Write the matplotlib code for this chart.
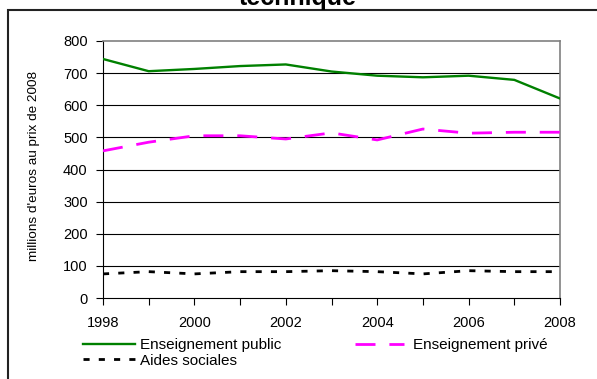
import numpy as np
import matplotlib
matplotlib.use('Agg')
import matplotlib.pyplot as plt
from matplotlib.patches import Rectangle

plt.rcParams['font.family'] = 'Liberation Sans'

years = np.arange(1998, 2009)
public = [744, 706, 713, 722, 727, 705, 692, 687, 692, 679, 621]
prive = [458, 485, 505, 505, 495, 514, 492, 526, 513, 516, 516]
aides = [75, 82, 75, 82, 82, 85, 82, 75, 85, 82, 82]

W, H = 597, 379
fig = plt.figure(figsize=(W / 100, H / 100), dpi=100, facecolor='w')
ax = fig.add_axes([103 / W, 1 - 298 / H, (560 - 103) / W, (298 - 41) / H])

# outer frame, cut by the picture edges
fig.patches.append(Rectangle((8 / W, -0.1), 1.2, 1 - 10 / H + 0.1, transform=fig.transFigure,
                             fill=False, edgecolor='#222222', linewidth=1.5))
fig.text(298 / W, 1 - 5 / H, 'technique', ha='center', va='baseline',
         fontsize=18, fontweight='bold')

for y in range(100, 800, 100):
    ax.axhline(y, color='k', linewidth=0.8, zorder=1)

l1, = ax.plot(years, public, color='#008000', linewidth=1.7, zorder=3,
              label='Enseignement public')
l2, = ax.plot(years, prive, color='#ff00ff', linewidth=2.0, zorder=3,
              dashes=(7.2, 5), label='Enseignement privé')
l3, = ax.plot(years, aides, color='k', linewidth=2.0, zorder=3,
              dashes=(2.2, 3.3), label='Aides sociales')

ax.set_xlim(1998, 2008)
ax.set_ylim(0, 800)
ax.set_yticks(range(0, 801, 100))
ax.set_xticks(range(1998, 2009, 2))
ax.set_xticks(range(1998, 2009), minor=True)
ax.tick_params(axis='both', direction='out', length=5, width=0.8, labelsize=10.5)
ax.tick_params(axis='y', pad=6)
ax.tick_params(axis='x', which='both', length=5, width=0.8, pad=8)
ax.spines['top'].set_color('#808080')
ax.spines['right'].set_color('#808080')
ax.spines['top'].set_linewidth(1.2)
ax.spines['right'].set_linewidth(1.2)
ax.spines['left'].set_color('k')
ax.spines['bottom'].set_color('k')
ax.set_ylabel("millions d'euros au prix de 2008", fontsize=9.7)
ax.yaxis.set_label_coords(40 / W, 1 - 166 / H, transform=fig.transFigure)

leg1 = fig.legend(handles=[l1, l3], loc='upper left', bbox_to_anchor=(83 / W, 1 - 338 / H),
                  frameon=False, fontsize=11, handlelength=3.4, handletextpad=0.3,
                  borderpad=0, borderaxespad=0, labelspacing=0.1)
leg2 = fig.legend(handles=[l2], loc='upper left', bbox_to_anchor=(355 / W, 1 - 338 / H),
                  frameon=False, fontsize=11, handlelength=3.2, handletextpad=0.6,
                  borderpad=0, borderaxespad=0)

fig.savefig('out.png', dpi=100)
